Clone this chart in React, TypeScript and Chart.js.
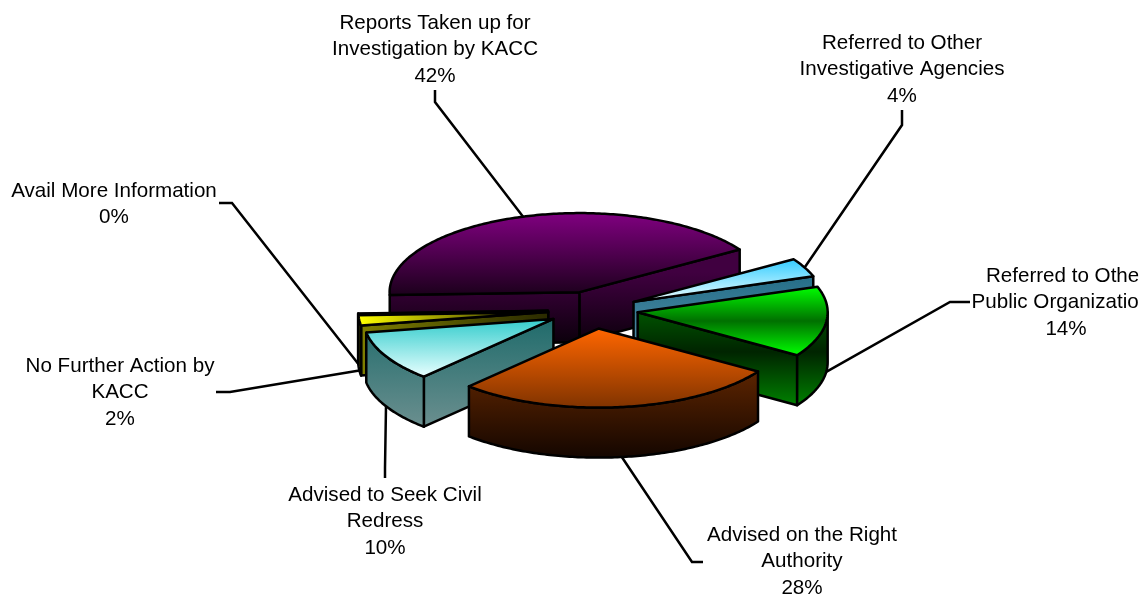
import React, { useEffect, useRef } from "react";
import { Chart, registerables } from "chart.js";

Chart.register(...registerables);

const categories = [
  ["Reports Taken up for", "Investigation by KACC"],
  ["Referred to Other", "Investigative Agencies"],
  ["Referred to Other", "Public Organizations"],
  ["Advised on the Right", "Authority"],
  ["Advised to Seek Civil", "Redress"],
  ["No Further Action by", "KACC"],
  ["Avail More Information"],
];
const values = [41.5, 3.8, 14.4, 27.8, 10.3, 2.1, 0.1];

const paintOrder = [0, 1, 2, 6, 5, 4, 3];
const squash = 0.416;
const explode = 45;
const depth = 50;
const FONT = '20.6px "Liberation Sans", Arial, sans-serif';

type Stops = [number, string][];
const topStops: Stops[] = [
  [[0, "#800080"], [1, "#1c001c"]],
  [[0, "#33ccff"], [1, "#f0ffff"]],
  [[0, "#00ff00"], [0.5, "#007000"], [1, "#00ff00"]],
  [[0, "#ff6600"], [1, "#803300"]],
  [[0, "#33cccc"], [1, "#e8ffff"]],
  [[0, "#ffff00"], [0.8, "#4a4a00"], [1, "#2a2a00"]],
  [[0, "#000000"], [1, "#000000"]],
];
const wallStops: Stops[] = [
  [[0, "#400040"], [0.45, "#400040"], [1, "#0a000a"]],
  [[0, "#1a6680"], [1, "#5590aa"]],
  [[0, "#007000"], [0.55, "#002400"], [1, "#008000"]],
  [[0, "#803300"], [1, "#140600"]],
  [[0, "#1f6b6b"], [1, "#6b8f8f"]],
  [[0, "#808000"], [0.8, "#3a3a00"], [1, "#2a2a00"]],
  [[0, "#000000"], [1, "#000000"]],
];
const horizontalGradient = [false, false, false, false, false, true, false];

// leader lines: wall fraction of the anchor, then elbow and end; text centre and first line middle
const leaderLayout = [
  { wall: 0, elbow: [435, 102], end: [435, 90], text: [435, 23] },
  { wall: 0, elbow: [902, 125], end: [902, 110], text: [902, 43] },
  { wall: 1, elbow: [950, 302], end: [970, 302], text: [1066, 276] },
  { wall: 1, elbow: [692, 562], end: [703, 562], text: [802, 535] },
  { wall: 0.5, elbow: [385, 468], end: [385, 478], text: [385, 495] },
  { wall: 1, elbow: [230, 392], end: [216, 392], text: [120, 366] },
  { wall: 1, elbow: [232, 203], end: [219, 203], text: [114, 191] },
];
const lineHeight = 26.5;
const textClipRight = 1138.5;
const strokeWidth = 2.5;

const pie3d = {
  id: "pie3d",
  beforeDatasetsDraw(chart: any) {
    const ctx: CanvasRenderingContext2D = chart.ctx;
    const arcs = chart.getDatasetMeta(0).data;
    const cx = arcs[0].x;
    const cy = arcs[0].y;
    const R = arcs[0].outerRadius;

    const geo = arcs.map((a: any) => {
      const mid = (a.startAngle + a.endAngle) / 2;
      const ex = Math.cos(mid) * explode;
      const ey = Math.sin(mid) * explode;
      const pt = (ang: number, r = R, dz = 0): [number, number] => [
        cx + ex + Math.cos(ang) * r,
        cy + squash * (ey + Math.sin(ang) * r) + dz,
      ];
      return { a, mid, ex, ey, pt };
    });

    const sweep = (s: number, e: number) => {
      const out: number[] = [];
      const n = Math.max(2, Math.ceil((e - s) / 0.015));
      for (let i = 0; i <= n; i++) out.push(s + ((e - s) * i) / n);
      return out;
    };

    const grad = (stops: Stops, x0: number, y0: number, x1: number, y1: number) => {
      const g = ctx.createLinearGradient(x0, y0, x1, y1);
      stops.forEach(([o, c]) => g.addColorStop(o, c));
      return g;
    };

    const poly = (pts: [number, number][], fill: any) => {
      ctx.beginPath();
      pts.forEach((p, i) => (i ? ctx.lineTo(p[0], p[1]) : ctx.moveTo(p[0], p[1])));
      ctx.closePath();
      if (fill) {
        ctx.fillStyle = fill;
        ctx.fill();
      }
      ctx.stroke();
    };

    // leader lines, under the slices
    ctx.save();
    ctx.strokeStyle = "#000";
    ctx.lineWidth = strokeWidth;
    leaderLayout.forEach((l, i) => {
      const g = geo[i];
      const p = g.pt(g.mid, R, depth * l.wall);
      ctx.beginPath();
      ctx.moveTo(p[0], p[1]);
      ctx.lineTo(l.elbow[0], l.elbow[1]);
      ctx.lineTo(l.end[0], l.end[1]);
      ctx.stroke();
    });
    ctx.restore();

    ctx.save();
    ctx.strokeStyle = "#000";
    ctx.lineWidth = strokeWidth;
    ctx.lineJoin = "round";
    paintOrder.forEach((i) => {
      const { a, pt, ex, ey } = geo[i];
      const s = a.startAngle;
      const e = a.endAngle;
      const apex = pt(0, 0);
      const rim = sweep(s, e).map((t) => pt(t));
      const ys = [apex[1], ...rim.map((p) => p[1])];
      const xs = [apex[0], ...rim.map((p) => p[0])];
      const minY = Math.min(...ys);
      const maxY = Math.max(...ys);
      const minX = Math.min(...xs);
      const maxX = Math.max(...xs);

      // walls
      const wallFill = horizontalGradient[i]
        ? grad(wallStops[i], minX, 0, maxX, 0)
        : grad(wallStops[i], 0, minY, 0, maxY + depth);
      const m = rim[Math.floor(rim.length / 2)];
      [s, e].forEach((t) => {
        const p = pt(t);
        const lineY = apex[1] + ((p[1] - apex[1]) * (m[0] - apex[0])) / (p[0] - apex[0]);
        if (m[1] < lineY) {
          poly([apex, p, [p[0], p[1] + depth], [apex[0], apex[1] + depth]], wallFill);
        }
      });
      // the front half of the circle lies between 0 and PI in chart angles
      const lo = Math.max(s, 0);
      const hi = Math.min(e, Math.PI);
      if (hi > lo) {
        const top = sweep(lo, hi).map((t) => pt(t));
        const bottom = sweep(lo, hi).reverse().map((t) => pt(t, R, depth));
        poly([...top, ...bottom], wallFill);
      }

      // top face: drawn by the arc element itself in the squashed frame
      const localTop = (y: number) => (y - cy) / squash + cy - ey;
      const topFill = horizontalGradient[i]
        ? grad(topStops[i], minX - ex, 0, maxX - ex, 0)
        : grad(topStops[i], 0, localTop(minY), 0, localTop(maxY));
      ctx.save();
      ctx.translate(0, cy);
      ctx.scale(1, squash);
      ctx.translate(0, -cy);
      ctx.translate(ex, ey);
      const saved = a.options;
      a.options = { ...saved, backgroundColor: topFill, borderWidth: 0, offset: 0 };
      a.draw(ctx);
      a.options = saved;
      ctx.restore();
      poly([apex, ...rim], null);
    });
    ctx.restore();

    // labels
    ctx.save();
    ctx.beginPath();
    ctx.rect(0, 0, textClipRight, chart.height);
    ctx.clip();
    ctx.fillStyle = "#000";
    ctx.font = FONT;
    ctx.textAlign = "center";
    ctx.textBaseline = "middle";
    categories.forEach((lines, i) => {
      const [tx, ty] = leaderLayout[i].text;
      const all = [...lines, `${Math.round(values[i])}%`];
      all.forEach((t, j) => ctx.fillText(t, tx, ty + j * lineHeight));
    });
    ctx.restore();
    return false;
  },
};

export default function App() {
  const ref = useRef<HTMLCanvasElement>(null);
  useEffect(() => {
    const chart = new Chart(ref.current!, {
      type: "pie",
      data: {
        labels: categories.map((c) => c.join(" ")),
        datasets: [{ data: values, backgroundColor: "#000", borderWidth: 0 }],
      },
      options: {
        animation: false,
        responsive: false,
        rotation: -92,
        radius: 190,
        layout: { padding: { left: 40, top: 21 } },
        plugins: { legend: { display: false }, tooltip: { enabled: false } },
      } as any,
      plugins: [pie3d as any],
    });
    return () => chart.destroy();
  }, []);
  return (
    <div style={{ position: "absolute", left: 0, top: 0, width: 1146, height: 599, background: "#fff" }}>
      <canvas ref={ref} width={1146} height={599} style={{ display: "block" }} />
    </div>
  );
}
